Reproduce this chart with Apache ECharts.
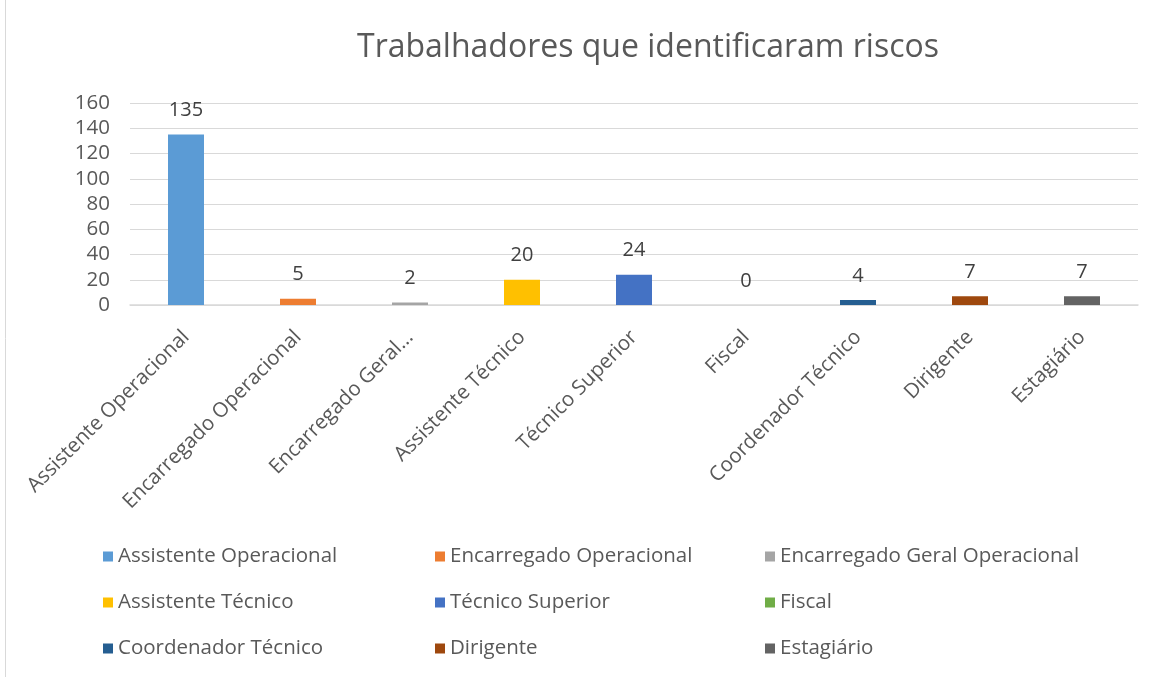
<!DOCTYPE html>
<html>
<head>
<meta charset="utf-8">
<title>Trabalhadores que identificaram riscos</title>
<script src="https://cdn.jsdelivr.net/npm/echarts@6/dist/echarts.min.js"></script>
<style>
  html, body { margin: 0; padding: 0; background: #fff; }
  #chart { width: 1163px; height: 677px; }
</style>
</head>
<body>
<div id="chart"></div>
<script>
// dados
const categories = [
  'Assistente Operacional', 'Encarregado Operacional', 'Encarregado Geral Operacional',
  'Assistente Técnico', 'Técnico Superior', 'Fiscal',
  'Coordenador Técnico', 'Dirigente', 'Estagiário'
]
const values = [135, 5, 2, 20, 24, 0, 4, 7, 7]
const yTicks = { min: 0, max: 160, interval: 20 }

const colors = ['#5B9BD5', '#ED7D31', '#A5A5A5', '#FFC000', '#4472C4', '#70AD47', '#255E91', '#9E480E', '#636363']
const font = '"Open Sans", "Noto Sans", sans-serif'
const textColor = '#595959'

const myChart = echarts.init(document.getElementById('chart'))

// uma série por categoria, empilhadas para ficarem centradas
const series = categories.map((name, i) => ({
  name: name,
  type: 'bar',
  stack: 'total',
  barWidth: 36,
  itemStyle: { color: colors[i] },
  label: {
    show: true,
    position: 'top',
    distance: 14,
    color: '#404040',
    fontFamily: font,
    fontSize: 20
  },
  data: categories.map((c, j) => (j === i ? values[i] : '-'))
}))

// legenda em 3 colunas
const legendCol = (col, left) => ({
  orient: 'vertical',
  left: left,
  top: 539,
  itemWidth: 10,
  itemHeight: 10,
  itemGap: 21,
  icon: 'rect',
  textStyle: { color: textColor, fontFamily: font, fontSize: 20.5, lineHeight: 25 },
  data: categories.filter((c, i) => i % 3 === col)
})

const options = {
  animation: false,
  title: {
    text: 'Trabalhadores que identificaram riscos',
    left: 352,
    top: 27,
    textStyle: { color: textColor, fontFamily: font, fontSize: 32, fontWeight: 'normal' }
  },
  legend: [legendCol(0, 98), legendCol(1, 430), legendCol(2, 760)],
  grid: { left: 130, right: 25, top: 103, bottom: 372, containLabel: false },
  xAxis: {
    type: 'category',
    data: categories,
    axisLine: { lineStyle: { color: '#d9d9d9', width: 1.5 } },
    axisTick: { show: false },
    axisLabel: {
      interval: 0,
      rotate: 45,
      margin: 29,
      color: textColor,
      fontFamily: font,
      fontSize: 20.5,
      formatter: (v) => (v.length > 25 ? v.slice(0, 17) + '...' : v)
    }
  },
  yAxis: {
    type: 'value',
    min: yTicks.min,
    max: yTicks.max,
    interval: yTicks.interval,
    axisLine: { show: false },
    axisTick: { show: false },
    axisLabel: { color: textColor, fontFamily: font, fontSize: 20.5, margin: 20 },
    splitLine: { lineStyle: { color: '#d9d9d9' } }
  },
  graphic: [{
    type: 'line',
    shape: { x1: 5.5, y1: 0, x2: 5.5, y2: 677 },
    style: { stroke: '#d9d9d9', lineWidth: 1 }
  }],
  series: series
}
myChart.setOption(options)
</script>
</body>
</html>
